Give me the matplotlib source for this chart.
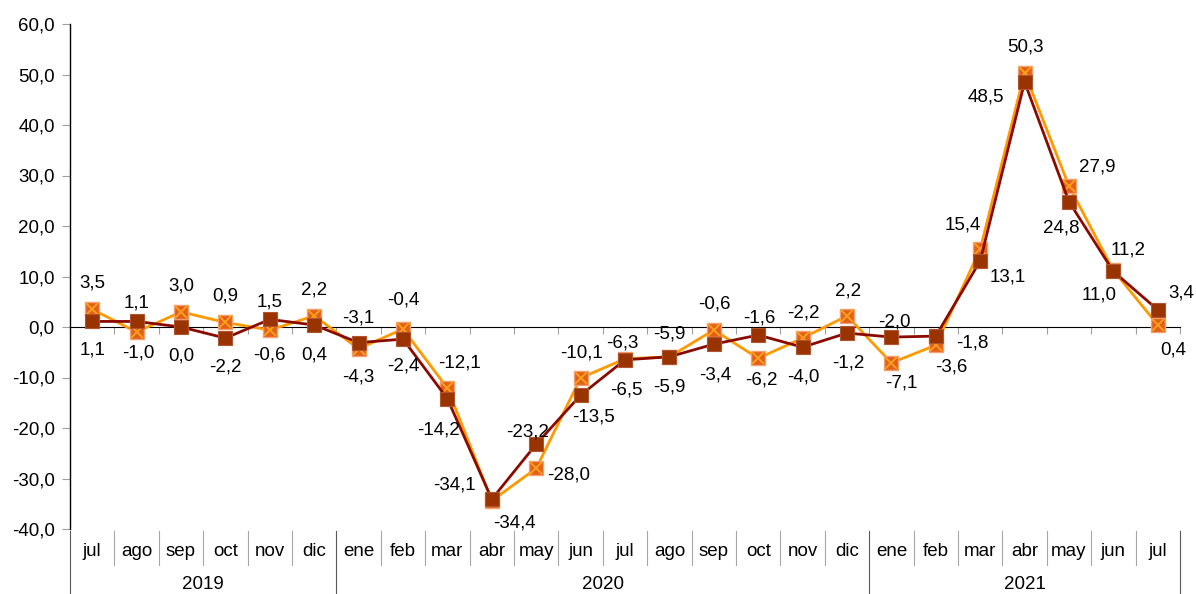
import matplotlib
matplotlib.use("Agg")
import matplotlib.pyplot as plt
import matplotlib.transforms as mtransforms
import numpy as np

plt.rcParams["font.family"] = ["Liberation Sans", "DejaVu Sans"]
plt.rcParams["font.size"] = 13.5

months = ["jul", "ago", "sep", "oct", "nov", "dic",
          "ene", "feb", "mar", "abr", "may", "jun", "jul", "ago", "sep", "oct", "nov", "dic",
          "ene", "feb", "mar", "abr", "may", "jun", "jul"]
years = ["2019", "2020", "2021"]
year_sizes = [6, 12, 7]

serie_naranja = [3.5, -1.0, 3.0, 0.9, -0.6, 2.2,
                 -4.3, -0.4, -12.1, -34.4, -28.0, -10.1, -6.3, -5.9, -0.6, -6.2, -2.2, 2.2,
                 -7.1, -3.6, 15.4, 50.3, 27.9, 11.2, 0.4]
serie_granate = [1.1, 1.1, 0.0, -2.2, 1.5, 0.4,
                 -3.1, -2.4, -14.2, -34.1, -23.2, -13.5, -6.5, -5.9, -3.4, -1.6, -4.0, -1.2,
                 -2.0, -1.8, 13.1, 48.5, 24.8, 11.0, 3.4]

# desplazamiento de las etiquetas (pixeles)
off_naranja = [(0, 26), (2, -21), (0, 26), (0, 26), (0, -25), (0, 26),
               (0, -28), (0, 29), (12, 25), (23, -22), (32, -7), (1, 25), (-3, 16), (0, 23),
               (1, 26), (3, -22), (1, 25), (1, 25),
               (10, -20), (16, -22), (-17, 24), (1, 26), (28, 19), (15, 20), (15, -25)]
off_granate = [(0, -29), (0, 18), (0, -29), (0, -29), (0, 17), (0, -30),
               (0, 25), (0, -27), (-9, -31), (-37, 14), (-9, 12), (13, -22), (1, -30), (0, -30),
               (1, -31), (1, 17), (1, -30), (1, -30),
               (3, 15), (37, -7), (28, -16), (-39, -15), (-8, -26), (-14, -24), (23, 17)]

x = np.arange(len(months))

fig = plt.figure(figsize=(11.96, 5.94), dpi=100)
ax = fig.add_axes([70 / 1196, 1 - 529 / 594, 1110 / 1196, 505 / 594])

ax.plot(x, serie_naranja, color="#FF9900", lw=2, zorder=3)
ax.plot(x, serie_naranja, ls="none", marker="s", ms=10, mfc="#E2601A",
        mec="#F2A070", mew=1, zorder=4)
ax.plot(x, serie_naranja, ls="none", marker="x", ms=8, mec="#FFA31A", mew=1.3, zorder=5)
ax.plot(x, serie_granate, color="#8B0A00", lw=2, zorder=6)
ax.plot(x, serie_granate, ls="none", marker="s", ms=10, mfc="#993300",
        mec="#B05530", mew=0.8, zorder=7)

fmt = lambda v: f"{v:.1f}".replace(".", ",")
for i in range(len(x)):
    ax.annotate(fmt(serie_naranja[i]), (x[i], serie_naranja[i]), xytext=off_naranja[i],
                textcoords="offset pixels", ha="center", va="center", zorder=8)
    ax.annotate(fmt(serie_granate[i]), (x[i], serie_granate[i]), xytext=off_granate[i],
                textcoords="offset pixels", ha="center", va="center", zorder=8)

ax.set_xlim(-0.5, len(months) - 0.5)
ax.set_ylim(-40, 60)
ax.set_yticks(np.arange(-40, 61, 10))
ax.set_yticklabels([fmt(v) for v in np.arange(-40, 61, 10)])
ax.tick_params(axis="y", direction="out", length=6, color="#A0A0A0", pad=5)

ax.spines["top"].set_visible(False)
ax.spines["right"].set_visible(False)
ax.spines["bottom"].set_position(("data", 0))
ax.spines["left"].set_linewidth(1)
ax.set_xticks(np.arange(-0.5, len(months), 1))
ax.set_xticklabels([])
ax.tick_params(axis="x", direction="out", length=5, color="#A0A0A0")

# etiquetas de categoria bajo el grafico
trans = mtransforms.blended_transform_factory(ax.transData, ax.transAxes)
for i, m in enumerate(months):
    ax.text(i, -0.0436, m, transform=trans, ha="center", va="center")
bounds = np.concatenate([[0], np.cumsum(year_sizes)]) - 0.5
for b in np.arange(-0.5, len(months), 1):
    if b in bounds:
        ax.plot([b, b], [-0.004, -0.129], transform=trans, color="#595959", lw=0.8,
                clip_on=False)
    else:
        ax.plot([b, b], [-0.004, -0.071], transform=trans, color="#A6A6A6", lw=0.8,
                clip_on=False)
for k, yr in enumerate(years):
    ax.text((bounds[k] + bounds[k + 1]) / 2, -0.109, yr, transform=trans,
            ha="center", va="center")

fig.savefig("out.png", dpi=100)
